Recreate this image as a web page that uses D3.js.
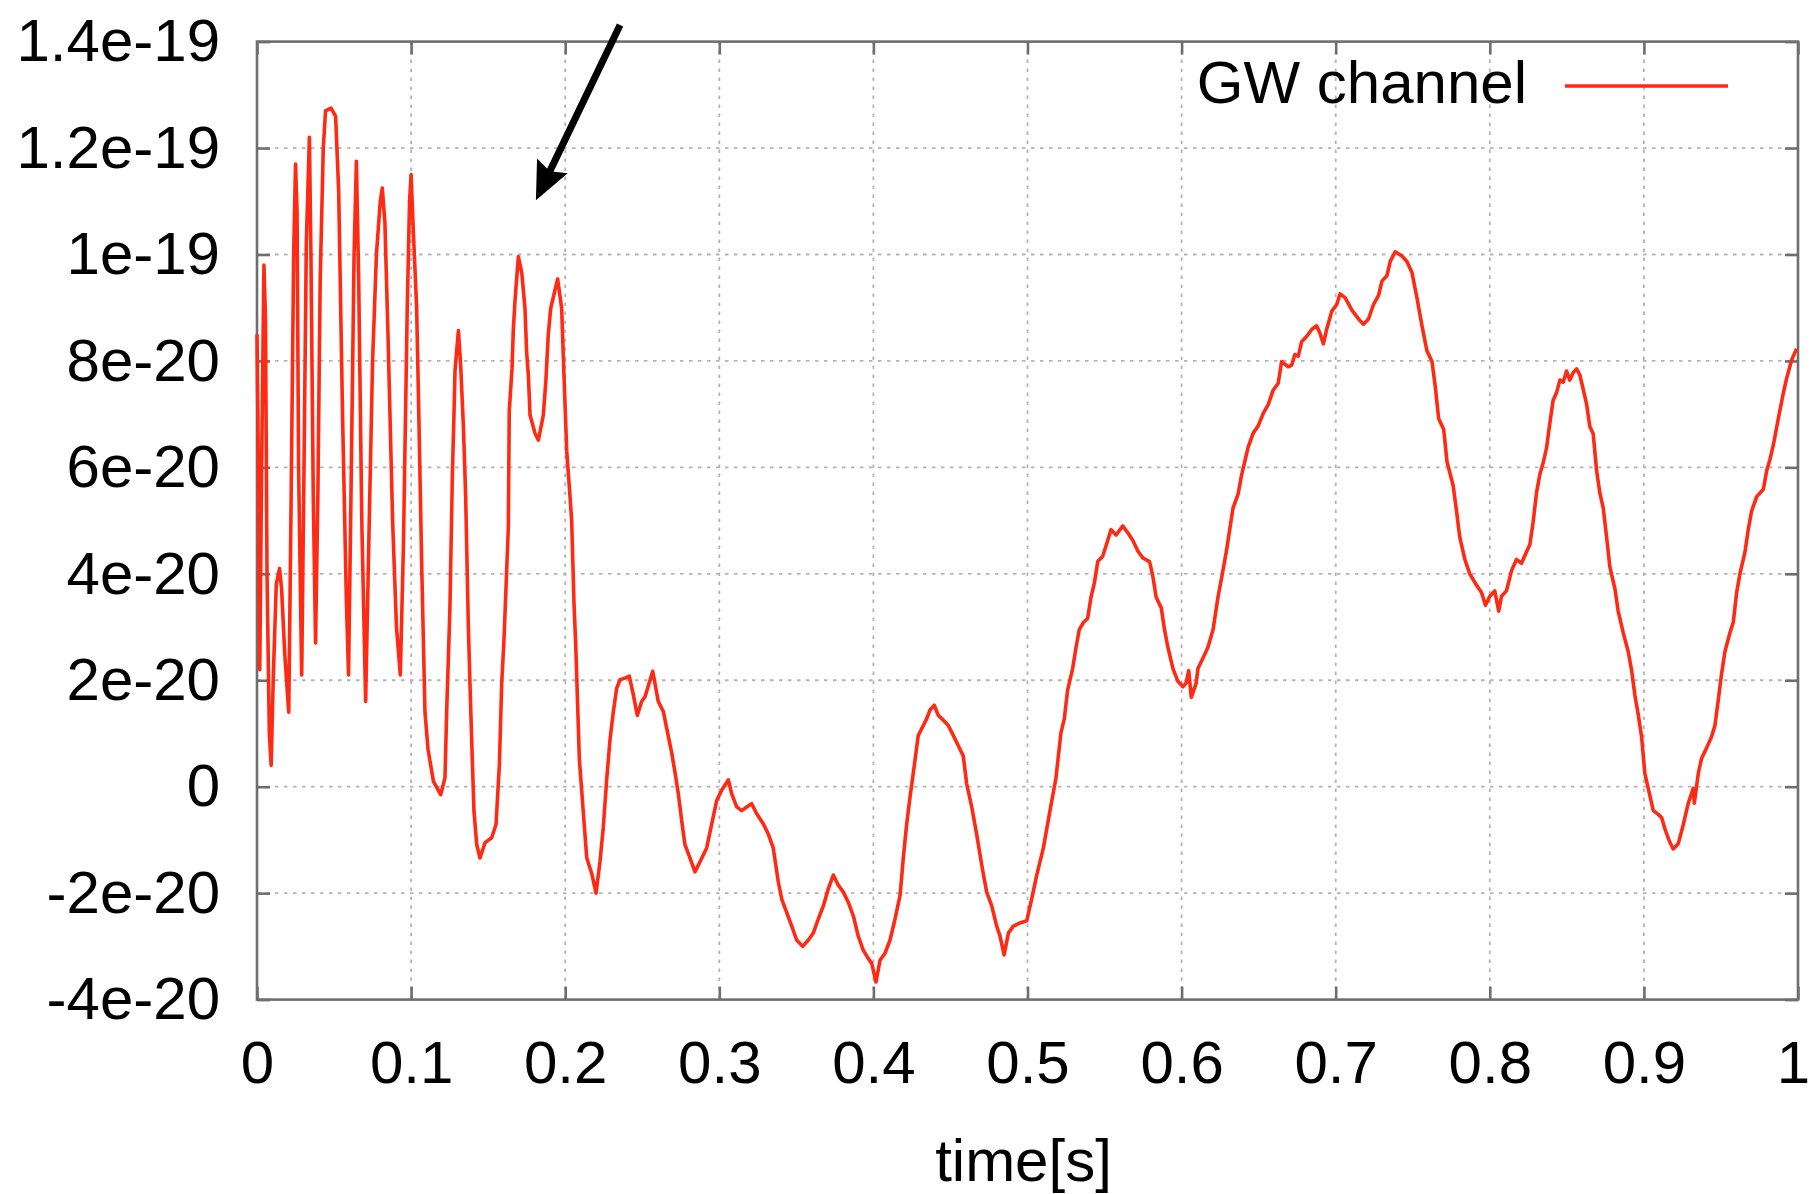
<!DOCTYPE html>
<html>
<head>
<meta charset="utf-8">
<script src="https://cdn.jsdelivr.net/npm/d3@7/dist/d3.min.js"></script>
<style>
  html, body { margin: 0; padding: 0; background: #ffffff; }
  svg { display: block; }
  text { font-family: "Liberation Sans", Arial, Helvetica, sans-serif; fill: #000; }
</style>
</head>
<body>
<svg id="chart" width="1812" height="1194"></svg>
<script>
// GW channel strain read-out: sample times in seconds
const timeS = [
  0, 0.0008, 0.0018, 0.003, 0.0045, 0.0055, 0.0065, 0.008, 0.0092, 0.0105,
  0.0125, 0.0146, 0.016, 0.018, 0.0206, 0.022, 0.0238, 0.025, 0.026, 0.027,
  0.029, 0.0305, 0.032, 0.034, 0.035, 0.0365, 0.038, 0.0395, 0.041, 0.043,
  0.0445, 0.048, 0.051, 0.053, 0.0555, 0.058, 0.0594, 0.061, 0.063, 0.0645,
  0.066, 0.068, 0.0705, 0.0725, 0.075, 0.0775, 0.08, 0.0813, 0.083, 0.085,
  0.088, 0.0905, 0.093, 0.095, 0.0975, 0.099, 0.1, 0.1015, 0.1036, 0.105,
  0.107, 0.109, 0.111, 0.1145, 0.1192,
  0.122, 0.1231, 0.1252, 0.1268, 0.1278, 0.1285, 0.1307, 0.1322, 0.1339, 0.1354,
  0.1371, 0.1382, 0.1393, 0.1408, 0.1426, 0.1447, 0.148, 0.1523, 0.1551, 0.1573,
  0.1588, 0.1603, 0.1616, 0.1631, 0.1637, 0.1655, 0.1663, 0.1674, 0.1696, 0.1718,
  0.1739, 0.175, 0.1761, 0.1772, 0.1804, 0.1826, 0.1858, 0.1875, 0.189, 0.1906,
  0.1923, 0.1951, 0.1977, 0.1992, 0.201, 0.2027, 0.2042, 0.2057, 0.2068, 0.2075,
  0.2092, 0.2118, 0.214, 0.2172, 0.22, 0.2226, 0.2247, 0.2269, 0.2291, 0.2312,
  0.2334, 0.2356, 0.2388, 0.2416,
  0.2442, 0.2468, 0.2496, 0.2518, 0.2568, 0.2604, 0.2637, 0.2659, 0.2691, 0.2713,
  0.2734, 0.2756, 0.2777, 0.281, 0.2842, 0.2875, 0.2918, 0.2951, 0.2983, 0.3016,
  0.3059, 0.308, 0.3113, 0.3145, 0.3178, 0.321, 0.3243, 0.3286, 0.3318, 0.335,
  0.3383, 0.3405, 0.3437, 0.347, 0.3502, 0.3541, 0.3578, 0.361, 0.3642, 0.3675,
  0.3707, 0.374, 0.3772, 0.3805, 0.3837, 0.387, 0.3902, 0.3934, 0.3967, 0.3989,
  0.4017, 0.4043, 0.4075, 0.4108, 0.414, 0.4173, 0.4194, 0.4216, 0.4238, 0.4259,
  0.4291, 0.4313, 0.4346, 0.4367, 0.4395, 0.4421, 0.4454, 0.4486, 0.4519, 0.4551,
  0.4583, 0.4605, 0.4638, 0.467, 0.4703, 0.4735, 0.4768, 0.48, 0.4822, 0.4848,
  0.4876, 0.4908, 0.4951, 0.4995, 0.5027, 0.506, 0.5103, 0.5146,
  0.5184, 0.5217, 0.5239, 0.526, 0.5293, 0.5315, 0.5336, 0.5364, 0.539, 0.5412,
  0.5434, 0.5456, 0.5488, 0.5521, 0.5542, 0.5575, 0.5618, 0.5651, 0.5683, 0.5716,
  0.5748, 0.5792, 0.5813, 0.5835, 0.5868, 0.5889, 0.5911, 0.5944, 0.5976, 0.6009,
  0.603, 0.6046, 0.6063, 0.6095, 0.6106, 0.6139, 0.6171, 0.6204, 0.6236, 0.6262,
  0.6291, 0.6312, 0.6334, 0.6367, 0.6388, 0.641, 0.6432, 0.6464, 0.6497, 0.6529,
  0.6562, 0.6594, 0.6627, 0.6649, 0.6692, 0.6714, 0.6735, 0.6757, 0.6779, 0.6811,
  0.6844, 0.6876, 0.6898, 0.692, 0.6941, 0.6974, 0.7007, 0.7028, 0.7061, 0.7104,
  0.7148, 0.718, 0.7213, 0.7245, 0.7278, 0.73, 0.7332, 0.7354, 0.7386, 0.743,
  0.7462, 0.7495, 0.7527, 0.756, 0.7592, 0.7625, 0.7646, 0.7668, 0.7701, 0.7722,
  0.7762, 0.7784, 0.7805, 0.7838, 0.787, 0.7913, 0.7946, 0.7972, 0.8, 0.8032,
  0.8058, 0.8076, 0.8108, 0.8141, 0.8173, 0.8206, 0.8227, 0.826, 0.8281, 0.8303,
  0.8325, 0.8346, 0.8368, 0.839, 0.8411, 0.8433, 0.8455, 0.8476, 0.8498, 0.8519,
  0.8541, 0.8563, 0.8584, 0.8606, 0.8628, 0.8649, 0.8671, 0.8693, 0.8714, 0.8736,
  0.8758, 0.8779, 0.8812, 0.8833, 0.8866, 0.8898, 0.892, 0.8942, 0.8963, 0.8985,
  0.9006, 0.9028, 0.9061, 0.9093, 0.9115, 0.9136, 0.9162, 0.919, 0.9223, 0.9255,
  0.9288, 0.932, 0.9327, 0.9353, 0.9374, 0.9407, 0.9439, 0.9461, 0.9483, 0.9504,
  0.9526, 0.9558, 0.958, 0.9602, 0.9623, 0.9656, 0.9677, 0.9699, 0.9732, 0.9775,
  0.9797, 0.9818, 0.984, 0.9872, 0.9905, 0.9926, 0.9959, 0.9991
];

// strain at each sample, in units of 1e-21
const strainE21 = [
  85, 62, 22, 60, 98, 88, 40, 10, 4, 20,
  38, 41, 37, 25, 14, 50, 100, 117, 108, 60,
  21, 60, 102, 122, 100, 55, 27, 55, 95, 120,
  127, 127.5, 126, 112, 70, 35, 21, 55, 100, 117.5,
  95, 50, 16, 45, 80, 100, 110, 112.5, 106, 85,
  50, 30, 21, 45, 90, 110, 115, 104, 90, 70,
  40, 14, 7, 1, -1.5,
  1.7, 14.3, 33.6, 58.8, 69.8, 78.2, 85.7, 79, 68, 54.6,
  30.7, 19.4, 8.9, -4.6, -10.9, -13.4, -10.5, -9.6, -7.1, 4.2,
  19.4, 27.8, 37.4, 48.8, 70.6, 78.6, 85.7, 91.2, 99.6, 96.6,
  89.9, 81.5, 77.3, 69.8, 66.4, 65.1, 69.8, 76.5, 84.9, 89.9,
  92, 95.4, 89.9, 77.3, 63, 56.3, 50, 34.5, 26.9, 20.6,
  5.1, -5, -13.4, -16.3, -20, -14, -7.7, 1.3, 8.9, 14,
  18.5, 20.1, 20.4, 20.8,
  17.3, 13.4, 16, 16.9, 21.7, 16, 14.1, 10.9, 6.4, 2.6,
  -1.3, -6.4, -10.9, -13.4, -16, -14.1, -11.5, -7, -2.6, -0.6,
  1.3, -1.3, -3.8, -4.5, -3.8, -3.2, -5.1, -7, -8.9, -11.5,
  -17.9, -21.1, -23.6, -26.2, -28.8, -30, -28.8, -27.5, -24.9, -22.4,
  -19.2, -16.6, -18.5, -19.8, -21.7, -24.3, -28.1, -30.7, -32.3, -33.2,
  -36.7, -32.6, -31.3, -28.8, -24.9, -20.4, -13.4, -7, -1.9, 2.6,
  9.6, 10.9, 12.8, 14.4, 15.3, 13.4, 12.5, 11.5, 9.6, 7.7,
  5.8, 0.6, -3.8, -8.9, -14.7, -19.8, -22.4, -26.2, -28.1, -31.6,
  -27.5, -26.2, -25.6, -25.2, -21.1, -16.6, -11.5, -4.5,
  1.5, 10.1, 12.8, 18.1, 22.2, 26.2, 29.5, 30.9, 31.6, 35.6,
  38.3, 42.3, 43.3, 46.3, 48.3, 47.3, 49, 47.7, 46.3, 44.3,
  43, 42.3, 39.6, 35.6, 33.6, 29.5, 26.2, 22.2, 19.8, 18.8,
  19.5, 21.8, 16.8, 19.5, 22.2, 24.2, 26.2, 29.5, 35.6, 39.6,
  44.3, 48.3, 52.4, 55, 58.4, 61.1, 63.8, 66.4, 67.8, 70.1,
  71.8, 74.5, 75.8, 79.9, 78.9, 79.2, 81.2, 80.9, 83.6, 84.6,
  85.9, 86.6, 85.2, 83.2, 85.9, 89.3, 90.6, 92.6, 91.9, 89.6,
  87.9, 86.9, 87.9, 90.6, 92.3, 95, 96, 98.7, 100.5, 99.7,
  98.7, 96.6, 91.9, 86.6, 81.9, 79.9, 75.2, 69.2, 67.1, 61.1,
  56.6, 51.8, 46.9, 42.7, 40, 37.9, 36.5, 34.1, 35.8, 36.8,
  33, 35.8, 36.8, 40.6, 42.7, 42, 43.4, 45.5, 49.7, 55.2,
  58.7, 60.8, 63.6, 68.4, 72.6, 74, 76.4, 76, 78.1, 76.4,
  77.8, 78.5, 77.4, 74.7, 71.9, 67.7, 66.3, 59.4, 55.2, 52.4,
  46.9, 41.3, 37.2, 33, 28.9, 25.4, 21.9, 17.1, 13.6, 9.4,
  2.5, -0.3, -4.5, -5.2, -5.8, -7.9, -10, -11.7, -10.7, -7.2,
  -3.1, -0.3, -3.1, 2.5, 5.3, 7.3, 9.4, 11.5, 16.4, 21.2,
  25.4, 28.9, 30.9, 36.5, 40, 44.1, 48.3, 51.8, 54.5, 55.9,
  59.4, 61.5, 64.2, 69.1, 74, 76.7, 80.2, 82.3
];

const seriesName = "GW channel";
const xAxisTitle = "time[s]";

const xTickValues = [0, 0.1, 0.2, 0.3, 0.4, 0.5, 0.6, 0.7, 0.8, 0.9, 1];
const xTickLabels = ["0", "0.1", "0.2", "0.3", "0.4", "0.5", "0.6", "0.7", "0.8", "0.9", "1"];
const yTickValues = [-4e-20, -2e-20, 0, 2e-20, 4e-20, 6e-20, 8e-20, 1e-19, 1.2e-19, 1.4e-19];
const yTickLabels = ["-4e-20", "-2e-20", "0", "2e-20", "4e-20", "6e-20", "8e-20", "1e-19", "1.2e-19", "1.4e-19"];

// annotation arrow, tail and head in data coordinates [time, strain]
const arrowTail = [0.2356, 1.431e-19];
const arrowHead = [0.181, 1.102e-19];

// ---- drawing ----
const svg = d3.select("#chart");
const W = 1812, H = 1194;
const plot = { left: 257, right: 1798, top: 41.6, bottom: 999.6 };

const x = d3.scaleLinear().domain([0, 1]).range([plot.left, plot.right]);
const y = d3.scaleLinear().domain([-4e-20, 1.4e-19]).range([plot.bottom, plot.top]);

const data = timeS.map((t, i) => ({ t, h: strainE21[i] * 1e-21 }))
  .filter(d => Number.isFinite(d.h));

svg.append("rect").attr("width", W).attr("height", H).attr("fill", "#fff");

const FONT = 60;
const frameColor = "#6e6e6e";
const gridColor = "#b4b4b4";
const TICK = 13;

// dotted grid
const grid = svg.append("g").attr("class", "grid");
grid.selectAll("line.v")
  .data(xTickValues.filter(v => v > 0 && v < 1))
  .join("line").attr("class", "v")
  .attr("x1", d => x(d)).attr("x2", d => x(d))
  .attr("y1", plot.top).attr("y2", plot.bottom)
  .attr("stroke", gridColor).attr("stroke-width", 1.8)
  .attr("stroke-dasharray", "3.5,5.5");
grid.selectAll("line.h")
  .data(yTickValues.slice(1, -1))
  .join("line").attr("class", "h")
  .attr("x1", plot.left).attr("x2", plot.right)
  .attr("y1", d => y(d)).attr("y2", d => y(d))
  .attr("stroke", gridColor).attr("stroke-width", 1.8)
  .attr("stroke-dasharray", "3.5,5.5");

// axes with inward ticks on all four sides
function styleAxis(g) {
  g.select(".domain").remove();
  g.selectAll(".tick line").attr("stroke", frameColor).attr("stroke-width", 2.6);
  g.selectAll(".tick text")
    .attr("font-size", FONT)
    .attr("font-family", '"Liberation Sans", Arial, sans-serif')
    .attr("fill", "#000");
}

const yLabel = d => yTickLabels[yTickValues.indexOf(d)];
const xLabel = d => xTickLabels[xTickValues.indexOf(d)];

svg.append("g")
  .attr("transform", `translate(${plot.left},0)`)
  .call(d3.axisLeft(y).tickValues(yTickValues).tickFormat(yLabel).tickSize(-TICK).tickPadding(37))
  .call(styleAxis);

svg.append("g")
  .attr("transform", `translate(${plot.right},0)`)
  .call(d3.axisRight(y).tickValues(yTickValues).tickFormat(() => "").tickSize(-TICK))
  .call(styleAxis);

const xAxisG = svg.append("g")
  .attr("transform", `translate(0,${plot.bottom})`)
  .call(d3.axisBottom(x).tickValues(xTickValues).tickFormat(xLabel).tickSize(-TICK).tickPadding(41))
  .call(styleAxis);
// keep the last label inside the page edge
xAxisG.selectAll(".tick text").filter(d => d === 1).attr("dx", -5);

svg.append("g")
  .attr("transform", `translate(0,${plot.top})`)
  .call(d3.axisTop(x).tickValues(xTickValues).tickFormat(() => "").tickSize(-TICK))
  .call(styleAxis);

// plot frame
svg.append("rect")
  .attr("x", plot.left).attr("y", plot.top)
  .attr("width", plot.right - plot.left).attr("height", plot.bottom - plot.top)
  .attr("fill", "none").attr("stroke", frameColor).attr("stroke-width", 2.6);

// waveform
const lineColor = "#ff2a14";
const line = d3.line().x(d => x(d.t)).y(d => y(d.h));
svg.append("path")
  .datum(data)
  .attr("d", line)
  .attr("fill", "none")
  .attr("stroke", lineColor)
  .attr("stroke-width", 3.6)
  .attr("stroke-linejoin", "round");

// legend
svg.append("text")
  .attr("x", 1527).attr("y", 103)
  .attr("text-anchor", "end")
  .attr("font-size", FONT)
  .text(seriesName);
svg.append("line")
  .attr("x1", 1565).attr("x2", 1728)
  .attr("y1", 86).attr("y2", 86)
  .attr("stroke", lineColor).attr("stroke-width", 3.6);

// x-axis title
svg.append("text")
  .attr("x", (plot.left + plot.right) / 2 - 4).attr("y", 1181)
  .attr("text-anchor", "middle")
  .attr("font-size", FONT)
  .text(xAxisTitle);

// annotation arrow
const ax0 = x(arrowTail[0]), ay0 = y(arrowTail[1]);
const ax1 = x(arrowHead[0]), ay1 = y(arrowHead[1]);
const len = Math.hypot(ax1 - ax0, ay1 - ay0);
const ux = (ax1 - ax0) / len, uy = (ay1 - ay0) / len;
const headLen = 38, headHalf = 17;
const bx = ax1 - ux * headLen, by = ay1 - uy * headLen;
svg.append("line")
  .attr("x1", ax0).attr("y1", ay0)
  .attr("x2", bx + ux * 6).attr("y2", by + uy * 6)
  .attr("stroke", "#000").attr("stroke-width", 7);
svg.append("path")
  .attr("d", `M${ax1},${ay1} L${bx - uy * headHalf},${by + ux * headHalf} L${bx + ux * 6},${by + uy * 6} L${bx + uy * headHalf},${by - ux * headHalf} Z`)
  .attr("fill", "#000");
</script>
</body>
</html>
